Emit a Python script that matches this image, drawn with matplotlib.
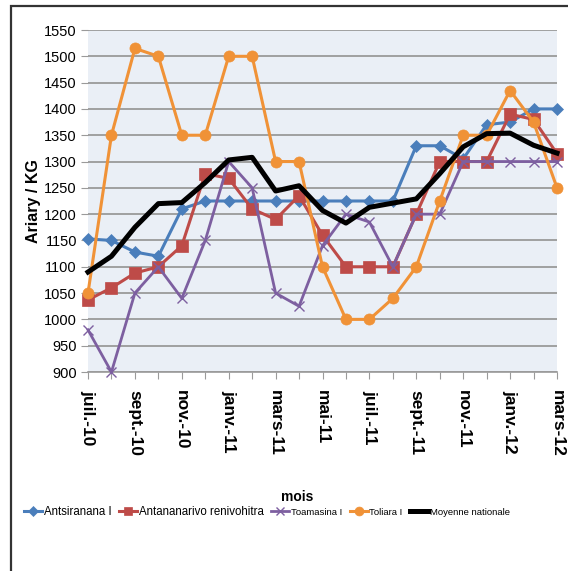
import matplotlib

matplotlib.use("Agg")

import matplotlib.pyplot as plt
from matplotlib.patches import Rectangle

NARROW = ["Liberation Sans Narrow", "Liberation Sans", "DejaVu Sans"]

months = [
    "juil.-10", "août-10", "sept.-10", "oct.-10", "nov.-10", "déc.-10",
    "janv.-11", "févr.-11", "mars-11", "avr.-11", "mai-11", "juin-11",
    "juil.-11", "août-11", "sept.-11", "oct.-11", "nov.-11", "déc.-11",
    "janv.-12", "févr.-12", "mars-12",
]

antsiranana = [1153, 1150, 1128, 1120, 1210, 1225, 1225, 1225, 1225, 1225, 1225,
               1225, 1225, 1225, 1330, 1330, 1305, 1370, 1375, 1400, 1400]
antananarivo = [1037, 1060, 1088, 1100, 1140, 1277, 1268, 1210, 1190, 1235, 1160,
                1100, 1100, 1100, 1200, 1300, 1300, 1300, 1390, 1380, 1315]
toamasina = [980, 900, 1050, 1100, 1040, 1150, 1300, 1250, 1050, 1025, 1140,
             1200, 1185, 1100, 1200, 1200, 1300, 1300, 1300, 1300, 1300]
toliara = [1050, 1350, 1515, 1500, 1350, 1350, 1500, 1500, 1300, 1300, 1100,
           1000, 1000, 1040, 1100, 1225, 1350, 1350, 1435, 1375, 1250]
moyenne = [1090, 1120, 1175, 1220, 1222, 1260, 1303, 1308, 1244, 1254, 1207,
           1183, 1213, 1221, 1229, 1277, 1328, 1353, 1354, 1331, 1316]

series = [
    ("Antsiranana I", antsiranana, "#4A7EBB", "D", 6, 2.2),
    ("Antananarivo renivohitra", antananarivo, "#BE4B48", "s", 8, 2.2),
    ("Toamasina I", toamasina, "#7D5FA0", "x", 7, 2.0),
    ("Toliara I", toliara, "#F09237", "o", 8, 2.2),
    ("Moyenne nationale", moyenne, "black", None, 0, 3.6),
]

fig = plt.figure(figsize=(5.68, 5.71), dpi=100)
fig.patches.append(Rectangle((11 / 568, -0.1), 1.2, 1.1 - 6 / 571, transform=fig.transFigure,
                             fill=False, edgecolor="#333333", linewidth=1.6))

ax = fig.add_axes([88 / 568, 1 - 372 / 571, 469 / 568, 342 / 571])
ax.set_facecolor("#EAEFF6")

x = list(range(len(months)))
handles = []
for name, values, color, marker, msize, lw in series:
    (line,) = ax.plot(x, values, color=color, lw=lw, marker=marker, markersize=msize,
                      markeredgewidth=1.0 if marker == "x" else 0.5, label=name,
                      clip_on=False, zorder=3)
    handles.append(line)

ax.set_xlim(0, len(months) - 1)
ax.set_ylim(900, 1550)
ax.set_yticks(range(900, 1551, 50))
ax.yaxis.grid(True, color="#9A9A9A", linewidth=1.3)
ax.set_axisbelow(True)
for side in ("top", "right"):
    ax.spines[side].set_visible(False)
ax.spines["left"].set_visible(False)
ax.spines["bottom"].set_color("#9A9A9A")
ax.spines["bottom"].set_linewidth(1.2)

ax.set_xticks(x)
ax.set_xticklabels([m if i % 2 == 0 else "" for i, m in enumerate(months)],
                   rotation=270, fontsize=12.5, fontweight="bold",
                   family=["Liberation Sans", "DejaVu Sans"])
ax.tick_params(axis="x", length=5, color="#9A9A9A", pad=8)
ax.tick_params(axis="y", length=5, color="#9A9A9A", pad=3, labelsize=10.5)
for lbl in ax.get_yticklabels():
    lbl.set_family(NARROW)

ax.set_ylabel("Ariary / KG", fontsize=11.5, fontweight="bold", labelpad=2,
              family=["Liberation Sans", "DejaVu Sans"])
fig.text(297 / 568, 1 - 497 / 571, "mois", ha="center", va="center", fontsize=10,
         fontweight="bold", family=["Liberation Sans", "DejaVu Sans"])

leg = fig.legend(handles=handles, loc="center", bbox_to_anchor=(267 / 568, 1 - 512 / 571),
                 ncol=5, frameon=False, handlelength=1.6, handletextpad=0.15,
                 columnspacing=0.7, borderaxespad=0, markerscale=0.8,
                 prop={"family": NARROW, "size": 8})
for i, t in enumerate(leg.get_texts()):
    t.set_fontsize(8.3 if i < 2 else 6.8)

fig.savefig("out.png", dpi=100)
